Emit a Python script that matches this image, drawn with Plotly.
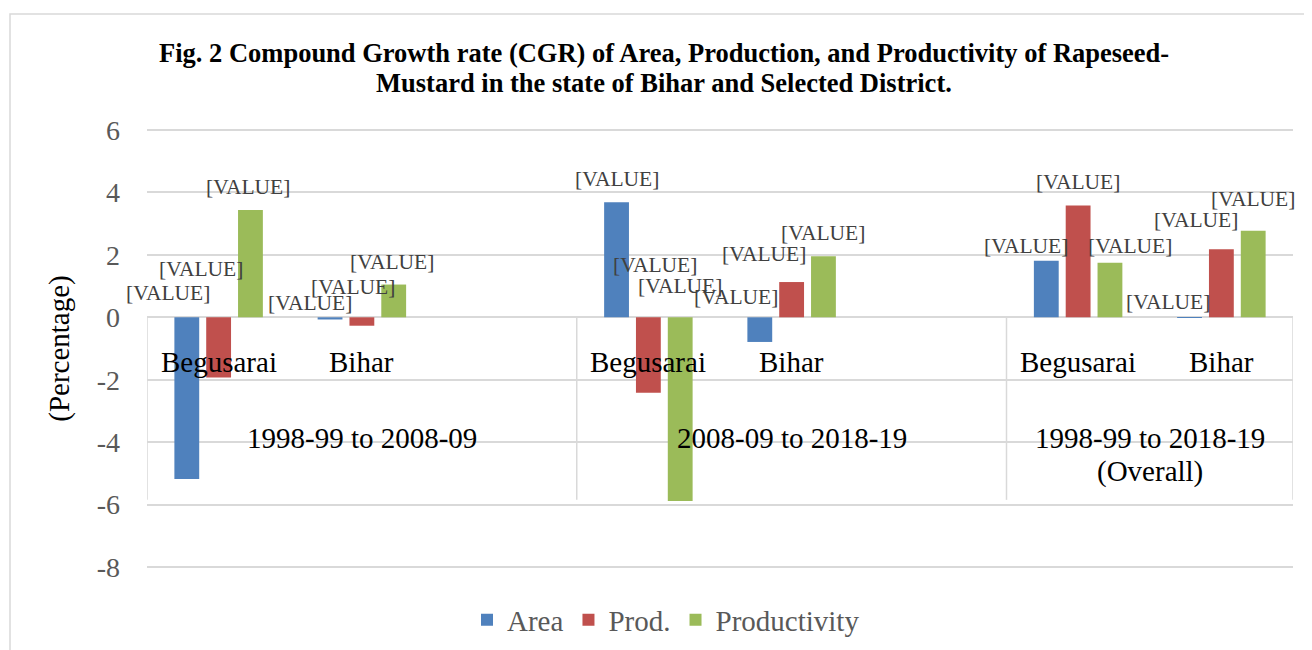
import plotly.graph_objects as go

# ---------------- data ----------------
title_lines = ["Fig. 2 Compound Growth rate (CGR) of Area, Production, and Productivity of Rapeseed-",
               "Mustard in the state of Bihar and Selected District."]
periods = ["1998-99 to 2008-09", "2008-09 to 2018-19", "1998-99 to 2018-19<br>(Overall)"]
regions = ["Begusarai", "Bihar"]
slots_per_period = [3, 3, 2]          # category slots per period (extra slot = blank)
series_names = ["Area", "Prod.", "Productivity"]

# values ordered: period1-Begusarai, period1-Bihar, period2-Begusarai, ...
area = [-5.18, -0.07, 3.69, -0.79, 1.81, -0.02]
prod = [-1.93, -0.27, -2.42, 1.13, 3.58, 2.18]
productivity = [3.44, 1.05, -5.89, 1.96, 1.75, 2.77]
ytick_values = [-8, -6, -4, -2, 0, 2, 4, 6]
ytick_labels = ["-8", "-6", "-4", "-2", "0", "2", "4", "6"]
label_text = "[VALUE]"

# ---------------- style ----------------
colors = ["#4F81BD", "#C0504D", "#9BBB59"]
FONT = "Liberation Serif, Times New Roman, serif"
GRID = "#D9D9D9"
BARGAP = 1 / 3
YPAD = 0.035
LINE_GAP_PX = 33
# data-label offsets (px) relative to bar x on the zero line, per series per bar
label_offsets = [
    [(-19, 24), (-20, 14), (0, 138), (-24, 20), (-20, 71), (-22, 15)],
    [(-18, 48), (-9, 30), (7, 52), (-28, 63), (0, 135), (-25, 97)],
    [(-2, 130), (-2, 55), (0, 31), (0, 84), (20, 71), (0, 118)],
]

# category positions
xpos = []
period_centers = []
boundaries = [-0.5]
start = 0
for n in slots_per_period:
    for j in range(len(regions)):
        xpos.append(start + j)
    period_centers.append(start - 0.5 + n / 2)
    start += n
    boundaries.append(start - 0.5)

fig = go.Figure()
all_vals = [area, prod, productivity]
for name, vals, col in zip(series_names, all_vals, colors):
    fig.add_trace(go.Bar(x=xpos, y=vals, name=name, marker=dict(color=col, line=dict(width=0))))

slot = (1 - BARGAP) / 3
annotations = []
for k, vals in enumerate(all_vals):
    for i, v in enumerate(vals):
        dx, dy = label_offsets[k][i]
        annotations.append(dict(
            x=xpos[i] + (k - 1) * slot, y=0, xref="x", yref="y",
            text=label_text, showarrow=False, xshift=dx, yshift=dy,
            font=dict(family=FONT, size=21.5, color="#404040"),
            xanchor="center", yanchor="middle"))

# region labels
for i, x in enumerate(xpos):
    annotations.append(dict(
        x=x, y=-1.42, xref="x", yref="y", text=regions[i % len(regions)],
        showarrow=False, font=dict(family=FONT, size=29, color="#000000"),
        xanchor="center", yanchor="middle"))
# period labels (each line placed separately for tight spacing)
for p, c in zip(periods, period_centers):
    for li, part in enumerate(p.split("<br>")):
        annotations.append(dict(
            x=c, y=-3.88, xref="x", yref="y", text=part, showarrow=False,
            font=dict(family=FONT, size=29, color="#000000"),
            xanchor="center", yanchor="middle", yshift=-li * LINE_GAP_PX))

shapes = []
for b in boundaries:
    shapes.append(dict(type="line", xref="x", yref="y", x0=b, x1=b, y0=0, y1=-5.85,
                       line=dict(color=GRID, width=1.5)))

# figure geometry (page body adds an 8px offset)
W, H = 1304, 642
L, R, T, B = 139, 19, 121, 82
pw, ph = W - L - R, H - T - B
# chart border
shapes.append(dict(type="rect", xref="paper", yref="paper",
                   x0=(2 - L) / pw, x1=(1340 - L) / pw,
                   y0=(H - B - 700) / ph, y1=(H - B - 6) / ph,
                   line=dict(color=GRID, width=1.5), layer="below"))

# title (two lines, tight spacing)
for line, ypix in zip(title_lines, [45, 75]):
    annotations.append(dict(
        x=(656 - L) / pw, y=(H - B - ypix) / ph, xref="paper", yref="paper",
        text="<b>" + line + "</b>", showarrow=False, xanchor="center", yanchor="middle",
        font=dict(family=FONT, size=26.5, color="#000000")))

fig.update_layout(
    width=W, height=H,
    margin=dict(l=L, r=R, t=T, b=B, autoexpand=False),
    paper_bgcolor="white", plot_bgcolor="white",
    barmode="group", bargap=BARGAP, bargroupgap=0.22,
    xaxis=dict(range=[-0.5, sum(slots_per_period) - 0.5], showticklabels=False,
               showgrid=False, zeroline=False, showline=False, ticks=""),
    yaxis=dict(range=[min(ytick_values) - YPAD, max(ytick_values) + YPAD],
               tickvals=ytick_values, ticktext=ytick_labels,
               showgrid=True, gridcolor=GRID, gridwidth=1.5,
               zeroline=True, zerolinecolor=GRID, zerolinewidth=1.5, showline=False,
               ticks="", ticklabelstandoff=26,
               tickfont=dict(family=FONT, size=28, color="#595959"),
               title=dict(text="(Percentage)", standoff=18,
                          font=dict(family=FONT, size=29, color="#000000"))),
    legend=dict(orientation="h", xref="container", yref="container",
                x=658 / W, xanchor="center",
                y=1 - 612 / H, yanchor="middle",
                font=dict(family=FONT, size=29, color="#595959"),
                itemsizing="constant"),
    annotations=annotations,
    shapes=shapes,
    showlegend=True,
)

fig.write_html("out.html")
